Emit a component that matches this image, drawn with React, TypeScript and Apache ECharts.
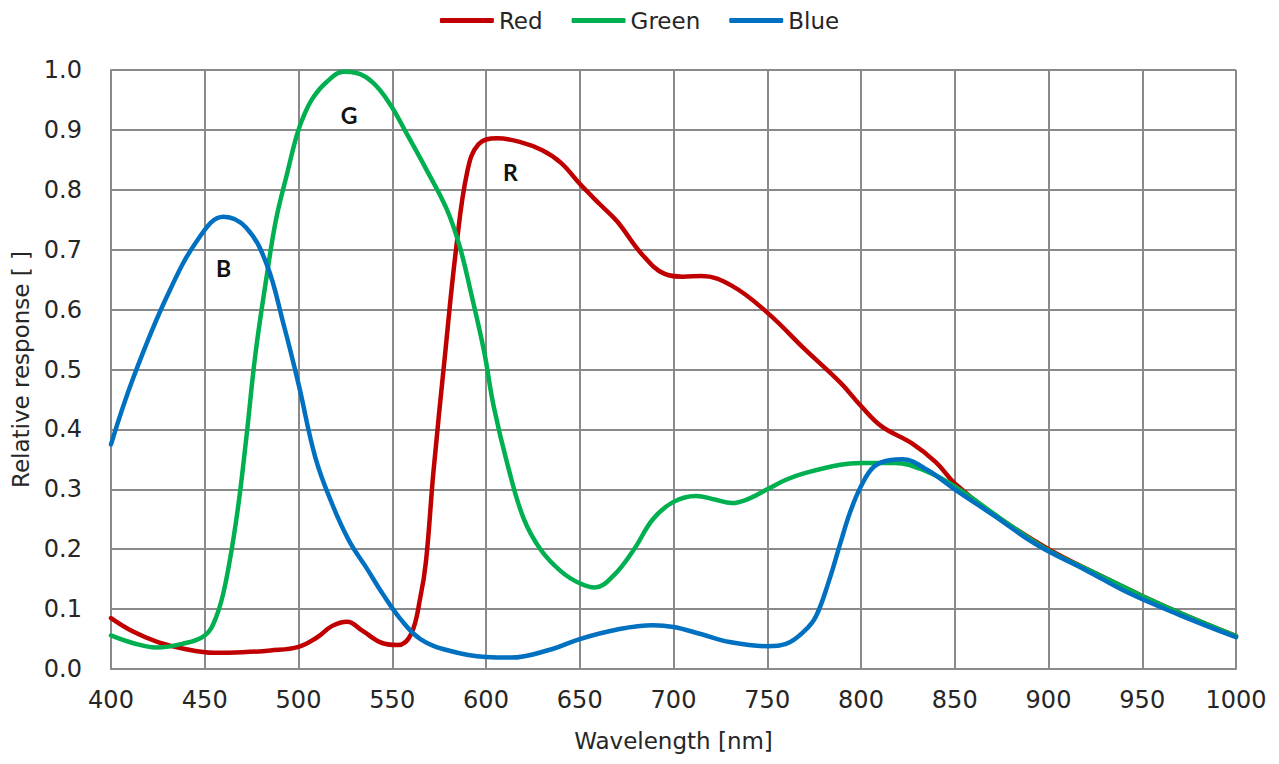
import React, { useEffect, useRef } from "react";
import * as echarts from "echarts";

const xTicks = [400, 450, 500, 550, 600, 650, 700, 750, 800, 850, 900, 950, 1000];
const yTicks = [0, 0.1, 0.2, 0.3, 0.4, 0.5, 0.6, 0.7, 0.8, 0.9, 1.0];

const redNm = [400, 412, 425, 440, 455, 470, 485, 500, 510, 518, 526, 534, 545, 553, 560, 565, 568, 572, 578, 584, 590, 596, 606, 618, 630, 640, 650, 661, 670, 683, 695, 705, 715, 731, 750, 770, 789, 800, 811, 827, 840, 850, 870, 900, 925, 950, 975, 1000];
const redVal = [0.085, 0.062, 0.045, 0.033, 0.027, 0.028, 0.031, 0.037, 0.053, 0.072, 0.079, 0.064, 0.043, 0.04, 0.058, 0.12, 0.18, 0.33, 0.52, 0.7, 0.83, 0.876, 0.886, 0.88, 0.866, 0.845, 0.81, 0.775, 0.747, 0.693, 0.66, 0.655, 0.656, 0.64, 0.595, 0.534, 0.478, 0.439, 0.405, 0.377, 0.345, 0.31, 0.26, 0.2, 0.16, 0.122, 0.087, 0.055];

const greenNm = [400, 412, 424, 438, 450, 456, 461, 467, 472, 477, 483, 488, 494, 499, 503, 508, 515, 524, 531, 540, 549, 558, 568, 579, 586, 592, 599, 604, 612, 620, 629, 640, 650, 658, 668, 679, 689, 700, 712, 722, 731, 740, 750, 760, 770, 789, 800, 818, 835, 850, 875, 900, 925, 950, 975, 1000];
const greenVal = [0.056, 0.043, 0.036, 0.042, 0.056, 0.086, 0.142, 0.253, 0.381, 0.525, 0.655, 0.75, 0.828, 0.89, 0.925, 0.955, 0.98, 0.997, 0.995, 0.978, 0.942, 0.892, 0.835, 0.768, 0.705, 0.628, 0.53, 0.44, 0.335, 0.252, 0.2, 0.163, 0.143, 0.136, 0.156, 0.2, 0.25, 0.279, 0.289, 0.283, 0.277, 0.284, 0.3, 0.316, 0.327, 0.341, 0.344, 0.344, 0.33, 0.305, 0.25, 0.198, 0.16, 0.122, 0.087, 0.055];

const blueNm = [400, 412, 430, 447, 460, 472, 483, 492, 500, 509, 518, 527, 536, 545, 554, 565, 581, 600, 613, 635, 650, 670, 689, 700, 715, 730, 750, 760, 770, 776, 783, 789, 794, 800, 807, 816, 822, 835, 850, 870, 894, 920, 942, 970, 1000];
const blueVal = [0.375, 0.487, 0.623, 0.72, 0.755, 0.737, 0.676, 0.576, 0.476, 0.353, 0.275, 0.214, 0.17, 0.125, 0.085, 0.05, 0.03, 0.02, 0.019, 0.033, 0.05, 0.066, 0.073, 0.07, 0.058, 0.045, 0.038, 0.042, 0.064, 0.088, 0.148, 0.21, 0.26, 0.305, 0.338, 0.349, 0.35, 0.333, 0.3, 0.258, 0.207, 0.165, 0.128, 0.09, 0.053];

const curveLabels = [
  { text: "B", nm: 460, val: 0.67 },
  { text: "G", nm: 527, val: 0.925 },
  { text: "R", nm: 613, val: 0.83 },
];

const RED = "#C00000";
const GREEN = "#00B050";
const BLUE = "#0070C0";
const GRID = "#8a8a8a";
const FONT = "'DejaVu Sans', 'Liberation Sans', Arial, sans-serif";
const TXT = "#262626";

function pairs(xs: number[], ys: number[]) {
  return xs.map((x, i) => [x, ys[i]]);
}

export default function App() {
  const ref = useRef<HTMLDivElement>(null);
  useEffect(() => {
    document.body.style.margin = "0";
    if (!ref.current) return;
    const chart = echarts.init(ref.current, null, { renderer: "svg" });
    const lineSeries = (name: string, color: string, data: number[][], z: number) => ({
      name,
      type: "line",
      data,
      smooth: 0.4,
      showSymbol: false,
      symbol: "none",
      z,
      lineStyle: { color, width: 4.5, cap: "round", join: "round" },
      itemStyle: { color },
    });
    chart.setOption({
      animation: false,
      backgroundColor: "#ffffff",
      textStyle: { fontFamily: FONT },
      legend: {
        top: 4,
        left: "center",
        icon: "roundRect",
        itemWidth: 54,
        itemHeight: 5,
        itemGap: 29,
        textStyle: { fontFamily: FONT, fontSize: 23, color: TXT },
        data: ["Red", "Green", "Blue"],
      },
      grid: { left: 111, right: 43, top: 70, bottom: 95, containLabel: false },
      xAxis: {
        type: "value",
        min: 400,
        max: 1000,
        interval: 50,
        name: "Wavelength [nm]",
        nameLocation: "middle",
        nameGap: 60,
        nameTextStyle: { fontFamily: FONT, fontSize: 23, color: TXT },
        axisLine: { show: true, lineStyle: { color: GRID, width: 2 } },
        axisTick: { show: false },
        axisLabel: {
          margin: 19,
          fontFamily: FONT,
          fontSize: 24,
          color: TXT,
          formatter: (v: number) => (xTicks.includes(v) ? String(v) : ""),
        },
        splitLine: { show: true, lineStyle: { color: GRID, width: 2 } },
      },
      yAxis: {
        type: "value",
        min: 0,
        max: 1,
        interval: 0.1,
        name: "Relative response [ ]",
        nameLocation: "middle",
        nameGap: 79,
        nameTextStyle: { fontFamily: FONT, fontSize: 23, color: TXT },
        axisLine: { show: true, lineStyle: { color: GRID, width: 2 } },
        axisTick: { show: false },
        axisLabel: {
          margin: 29,
          fontFamily: FONT,
          fontSize: 24,
          color: TXT,
          formatter: (v: number) => {
            const t = yTicks.find((y) => Math.abs(y - v) < 1e-6);
            return t === undefined ? "" : t.toFixed(1);
          },
        },
        splitLine: { show: true, lineStyle: { color: GRID, width: 2 } },
      },
      series: [
        lineSeries("Red", RED, pairs(redNm, redVal), 3),
        lineSeries("Green", GREEN, pairs(greenNm, greenVal), 4),
        {
          ...lineSeries("Blue", BLUE, pairs(blueNm, blueVal), 5),
          markPoint: {
            symbol: "circle",
            symbolSize: 0,
            silent: true,
            label: {
              show: true,
              formatter: (p: any) => p.name,
              fontFamily: "Lato, 'Open Sans', sans-serif",
              fontWeight: "bold",
              fontSize: 23,
              color: "#111",
            },
            data: curveLabels.map((l) => ({ name: l.text, coord: [l.nm, l.val] })),
          },
        },
      ],
    });
    return () => chart.dispose();
  }, []);
  return (
    <div
      ref={ref}
      style={{ position: "absolute", left: 0, top: 0, width: 1279, height: 764 }}
    />
  );
}
